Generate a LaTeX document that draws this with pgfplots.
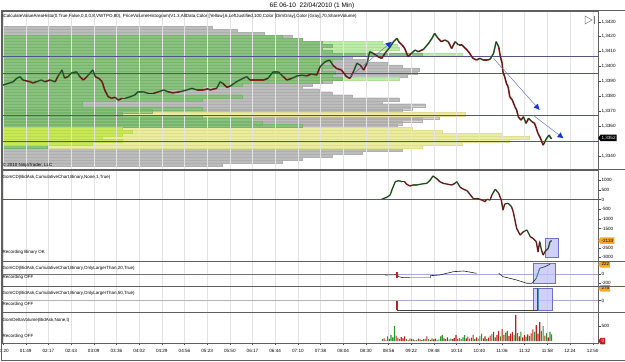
\documentclass[border=0pt]{standalone}
\usepackage{fontspec}
\setmainfont{Liberation Sans}
\usepackage{pgfplots}
\usepackage{pgfplotstable}
\pgfplotsset{compat=1.18}
\usetikzlibrary{arrows.meta,shapes.symbols}

\definecolor{histgray}{RGB}{188,188,188}
\definecolor{histgrayedge}{RGB}{174,174,174}
\definecolor{histyellow}{RGB}{236,236,158}
\definecolor{histyellowedge}{RGB}{222,222,144}
\definecolor{vagreen}{RGB}{136,194,126}
\definecolor{vagreenedge}{RGB}{120,180,110}
\definecolor{valime}{RGB}{200,232,86}
\definecolor{valimeedge}{RGB}{186,220,76}
\definecolor{valight}{RGB}{188,236,168}
\definecolor{valightedge}{RGB}{174,224,154}
\definecolor{levelline}{RGB}{84,84,140}
\definecolor{zeroline}{RGB}{168,168,222}
\definecolor{arrowline}{RGB}{110,120,190}
\definecolor{arrowhead}{RGB}{20,50,220}
\definecolor{boxfill}{RGB}{192,192,246}
\definecolor{boxedge}{RGB}{112,112,204}
\definecolor{upcol}{RGB}{40,150,40}
\definecolor{downcol}{RGB}{190,30,30}
\definecolor{candleup}{RGB}{52,122,52}
\definecolor{candledown}{RGB}{150,32,24}
\definecolor{flagorange}{RGB}{244,168,40}
\definecolor{framegray}{RGB}{96,96,96}
\definecolor{stepteal}{RGB}{70,150,180}

\newcommand\tickfont{\fontsize{4.6}{5}\selectfont}
\newcommand\labelfont{\fontsize{4.5}{5}\selectfont}

% ---------- price (1 min closes) ----------
\pgfplotstableread{
t p c
80 1.33875 0
92 1.33897 0
96 1.33920 0
100 1.33931 0
103 1.33909 1
112 1.33897 1
115 1.33889 1
119 1.33897 0
125 1.33909 0
129 1.33897 1
135 1.33909 0
141 1.33897 1
144 1.33931 0
149 1.33976 0
152 1.33922 1
156 1.33931 0
160 1.33956 0
166 1.33964 0
170 1.33931 1
174 1.33909 1
178 1.33931 0
182 1.33956 0
185 1.33976 0
188 1.33931 1
192 1.33920 1
196 1.33897 1
199 1.33842 1
203 1.33797 1
207 1.33786 1
211 1.33793 0
215 1.33774 1
219 1.33786 0
223 1.33786 0
229 1.33797 0
234 1.33808 0
238 1.33830 0
244 1.33830 0
250 1.33819 1
256 1.33819 1
262 1.33830 0
268 1.33842 0
273 1.33830 1
279 1.33823 1
287 1.33830 0
295 1.33842 0
301 1.33853 0
307 1.33842 1
314 1.33842 1
320 1.33850 0
322 1.33842 1
330 1.33853 0
334 1.33897 0
337 1.33887 1
342 1.33860 1
346 1.33868 0
353 1.33897 0
361 1.33920 0
365 1.33931 0
369 1.33909 1
377 1.33909 1
385 1.33909 1
390 1.33920 0
396 1.33964 0
402 1.33964 0
408 1.33931 1
412 1.33909 1
418 1.33920 0
424 1.33936 0
430 1.33942 0
435 1.33936 1
441 1.33949 0
447 1.33942 1
451 1.33998 0
457 1.34032 0
462 1.34043 0
466 1.34009 1
470 1.33987 1
476 1.33976 1
482 1.33931 1
486 1.33920 1
490 1.33964 0
494 1.34021 0
498 1.34009 1
502 1.33976 1
506 1.34021 0
509 1.34099 0
513 1.34088 1
519 1.34065 1
523 1.34054 1
527 1.34088 0
533 1.34132 0
537 1.34166 0
541 1.34189 0
543 1.34166 1
547 1.34144 1
550 1.34121 1
554 1.34065 1
558 1.34088 0
562 1.34110 0
566 1.34099 1
572 1.34115 0
578 1.34155 0
582 1.34189 0
585 1.34222 0
589 1.34189 1
593 1.34166 1
597 1.34177 0
601 1.34166 1
605 1.34121 1
609 1.34166 0
613 1.34144 1
617 1.34144 1
623 1.34110 1
626 1.34088 1
630 1.34054 1
634 1.34043 1
638 1.34054 0
642 1.34043 1
646 1.34043 1
650 1.34048 0
654 1.34088 0
657 1.34166 0
660 1.34132 1
662 1.34065 1
664 1.34021 1
665 1.33964 1
667 1.33931 1
669 1.33887 1
671 1.33864 1
673 1.33797 1
676 1.33774 1
679 1.33730 1
681 1.33707 1
683 1.33662 1
686 1.33640 1
689 1.33662 0
692 1.33618 1
695 1.33652 0
699 1.33629 1
702 1.33618 1
704 1.33585 1
706 1.33551 1
709 1.33517 1
712 1.33472 1
714 1.33495 0
716 1.33517 0
719 1.33540 0
721 1.33517 1
722 1.33520 0
}\pricetab

% ---------- volume profile rows (2-pip rows) ----------
\pgfplotstableread{
p vol
1.3426 210
1.3424 235
1.3422 262
1.3420 290
1.3418 300
1.3416 330
1.3414 335
1.3412 330
1.3410 340
1.3408 355
1.3406 350
1.3404 365
1.3402 385
1.3400 400
1.3398 417
1.3396 415
1.3394 405
1.3392 360
1.3390 330
1.3388 310
1.3386 300
1.3384 317
1.3382 330
1.3380 350
1.3378 397
1.3376 380
1.3374 423
1.3372 410
1.3370 400
1.3366 437
1.3364 420
1.3362 400
1.3360 395
1.3344 400
1.3342 360
1.3340 330
1.3338 300
1.3336 280
1.3334 220
}\volgray
\pgfplotstableread{
p vol
1.3368 463
1.3358 410
1.3356 440
1.3354 500
1.3352 527
1.3350 507
1.3348 460
1.3346 420
}\volyellow
\pgfplotstableread{
p vol
1.3416 380
1.3414 395
1.3412 397
1.3410 370
1.3408 460
1.3392 397
}\valight
\pgfplotstableread{
p vol
1.3420 280
1.3418 300
1.3416 320
1.3414 330
1.3412 320
1.3410 330
1.3408 420
1.3406 340
1.3404 330
1.3402 320
1.3400 330
1.3398 320
1.3396 333
1.3394 330
1.3392 340
1.3390 320
1.3388 240
1.3386 200
1.3384 160
1.3382 170
1.3380 240
1.3378 200
1.3376 80
1.3374 80
1.3372 200
1.3370 150
1.3368 120
1.3366 200
1.3364 250
1.3362 260
1.3360 300
1.3346 45
}\vagreen
\pgfplotstableread{
p vol
1.3358 120
1.3356 130
1.3354 120
1.3352 100
1.3350 120
1.3348 90
}\valime

% ---------- cumulative delta ----------
\pgfplotstableread{
t v c
523 10 0
529 114 0
533 233 0
535 492 0
539 922 0
543 974 0
547 922 1
550 922 1
552 803 1
556 699 1
560 751 0
564 751 0
570 803 0
576 839 0
580 1010 0
583 1217 0
587 1098 1
591 922 1
595 839 1
599 803 1
605 751 1
609 839 0
611 922 0
615 632 1
619 528 1
623 456 1
626 285 1
630 62 1
634 62 1
638 10 1
642 -62 1
644 -114 1
646 10 0
650 -26 1
652 233 0
656 528 0
660 321 1
663 -26 1
665 -544 1
667 -233 0
671 -197 0
675 -373 1
677 -632 1
679 -1062 1
681 -1492 1
685 -1839 1
689 -1668 0
693 -1580 0
697 -1927 1
700 -2010 1
704 -2186 1
706 -2704 1
708 -2186 0
710 -2616 1
712 -2875 1
714 -2704 0
718 -2528 0
720 -2186 0
722 -2133 0
}\cdtab

% ---------- delta volume bars ----------
\pgfplotstableread{
t v
524 60
528 40
530 150
534 200
536 120
538 490
544 60
552 60
556 90
560 50
564 40
570 30
572 60
578 60
582 90
588 40
590 50
592 150
594 200
598 70
602 50
604 80
612 70
614 100
618 120
620 190
626 80
632 60
636 80
638 160
640 240
646 60
652 230
656 120
662 150
668 270
670 330
678 200
682 260
686 310
692 140
696 160
702 300
710 330
712 490
716 260
720 300
722 220
}\dvup
\pgfplotstableread{
t v
526 90
532 70
540 180
542 110
546 130
548 90
550 150
554 40
558 70
562 30
566 80
568 50
574 70
576 150
580 40
584 50
586 80
596 90
600 120
606 60
608 100
610 190
616 60
622 90
624 140
628 110
630 200
634 120
642 90
644 150
648 110
650 180
654 300
658 200
660 330
664 390
666 200
672 160
674 240
676 300
680 850
684 150
688 120
690 190
694 220
698 250
700 380
704 520
706 240
708 620
714 180
718 120
}\dvdown

\tikzset{
  flag/.style={signal, signal to=west, signal pointer angle=110, anchor=west,
    font=\tickfont, inner xsep=1pt, inner ysep=0.5pt, minimum height=6.5pt},
}
\pgfplotsset{
  panel/.style={
    scale only axis, width=596pt, xmin=78.8, xmax=776.2,
    clip=false, no markers,
    axis line style={draw=framegray, line width=0.6pt},
    xtick={80,106.54,133.08,159.62,186.15,212.69,239.23,265.77,292.31,318.85,345.38,371.92,398.46,425,451.54,478.08,504.62,531.15,557.69,584.23,610.77,637.31,663.85,690.38,716.92,743.46,770},
    xticklabels={}, xtick style={draw=none},
    xmajorgrids, grid style={draw=black!11, line width=0.4pt},
    tick align=outside, major tick length=2.5pt,
    xtick pos=bottom, ytick pos=right, yticklabel pos=right,
    ytick style={draw=black!70, line width=0.4pt},
    ticklabel style={font=\tickfont},
    yticklabel style={anchor=west, inner sep=0.8pt},
  },
  updown/.style={mesh, shader=flat corner, point meta=explicit,
    colormap={updown}{color=(upcol) color=(downcol)}},
  candles/.style={mesh, shader=flat corner, point meta=explicit,
    colormap={candles}{color=(candleup) color=(candledown)}},
  profilerow/.style={bar shift=0pt, bar width=3.1pt, line width=0.2pt},
}

\begin{document}
\begin{tikzpicture}
\useasboundingbox (0,0) rectangle (625pt,362pt);

% ===== volume profile behind the price panel =====
\begin{axis}[scale only axis, width=596pt, height=159pt, at={(2pt,192pt)}, anchor=south west,
  xmin=0, xmax=596, ymin=1.33305, ymax=1.34372, hide axis, xbar]
\addplot[profilerow, fill=histgray, draw=histgrayedge] table[x=vol,y=p]{\volgray};
\addplot[profilerow, fill=histyellow, draw=histyellowedge] table[x=vol,y=p]{\volyellow};
\addplot[profilerow, fill=valight, draw=valightedge] table[x=vol,y=p]{\valight};
\addplot[profilerow, fill=vagreen, draw=vagreenedge] table[x=vol,y=p]{\vagreen};
\addplot[profilerow, fill=valime, draw=valimeedge] table[x=vol,y=p]{\valime};
\end{axis}

% ===== price panel =====
\begin{axis}[panel, at={(2pt,192pt)}, anchor=south west, height=159pt,
  ymin=1.33305, ymax=1.34372,
  ytick={1.3340,1.3360,1.3370,1.3380,1.3390,1.3400,1.3410,1.3420,1.3430},
  yticklabels={{1,3340},{1,3360},{1,3370},{1,3380},{1,3390},{1,3400},{1,3410},{1,3420},{1,3430}}]
\addplot[levelline, line width=0.7pt] coordinates {(78.8,1.34065) (776.2,1.34065)};
\addplot[levelline, line width=0.7pt] coordinates {(78.8,1.33956) (776.2,1.33956)};
\addplot[levelline, line width=0.7pt] coordinates {(78.8,1.33674) (776.2,1.33674)};
\addplot[levelline, line width=0.7pt] coordinates {(78.8,1.33497) (776.2,1.33497)};
\addplot[candles, line width=1.6pt] table[x=t,y=p,meta=c]{\pricetab};
\addplot[black!85, line width=0.45pt] table[x=t,y=p]{\pricetab};
\addplot[arrowline, line width=0.5pt, -{Latex[length=6pt,width=6pt,color=arrowhead]}] coordinates {(486,1.33931) (535,1.34166)};
\addplot[arrowline, line width=0.5pt, -{Latex[length=6pt,width=6pt,color=arrowhead]}] coordinates {(654,1.34054) (708,1.33707)};
\addplot[arrowline, line width=0.5pt, -{Latex[length=6pt,width=6pt,color=arrowhead]}] coordinates {(700,1.33674) (736,1.33517)};
\node[flag, fill=black, text=white] at (axis cs:776.2,1.3352) {1,3352};
\end{axis}

% ===== cumulative delta =====
\begin{axis}[panel, at={(2pt,101pt)}, anchor=south west, height=91pt,
  ymin=-3186, ymax=1528,
  ytick={1000,500,0,-500,-1000,-1500,-2500,-3000},
  yticklabels={1000,500,0,-500,-1000,-1500,-2500,-3000}]
\addplot[levelline, line width=0.6pt] coordinates {(78.8,0) (776.2,0)};
\addplot[fill=boxfill, fill opacity=0.75, draw=boxedge, line width=0.5pt] coordinates {(714,-1994) (730,-1994) (730,-2979) (714,-2979) (714,-1994)};
\addplot[candles, line width=1.4pt] table[x=t,y=v,meta=c]{\cdtab};
\addplot[black!85, line width=0.45pt] table[x=t,y=v]{\cdtab};
\node[flag, fill=flagorange, text=black] at (axis cs:776.2,-2133) {-2133};
\end{axis}

% ===== cumulative delta, trades larger than 20 =====
\begin{axis}[panel, at={(2pt,76pt)}, anchor=south west, height=25pt,
  ymin=-260, ymax=295, ytick={0,-200}, yticklabels={0,-200}]
\addplot[black!55, line width=0.6pt] coordinates {(78.8,0) (528,0)};
\addplot[zeroline, line width=0.6pt] coordinates {(528,0) (776.2,0)};
\addplot[fill=boxfill, fill opacity=0.75, draw=boxedge, line width=0.5pt] coordinates {(700,244) (726,244) (726,-200) (700,-200) (700,244)};
\addplot[black!85, line width=0.6pt] coordinates {(527,-16) (541,-10) (543,-53) (548,-75) (556,-75) (580,-75) (580,-31) (591,-16) (607,58) (619,73) (634,22)};
\addplot[black!30, line width=1.2pt] coordinates {(556,-75) (580,-75)};
\addplot[downcol, line width=1.4pt] coordinates {(541,44) (541,-75)};
\addplot[black!85, line width=0.6pt] coordinates {(660,22) (665,-53) (673,-89) (681,-127) (693,-200) (699,-200) (704,-89) (706,22) (708,133) (714,169) (720,222)};
\addplot[stepteal, line width=0.8pt] coordinates {(704,-89) (706,22) (708,133)};
\node[flag, fill=flagorange, text=black] at (axis cs:776.2,222) {222};
\end{axis}

% ===== cumulative delta, trades larger than 50 =====
\begin{axis}[panel, at={(2pt,50pt)}, anchor=south west, height=26pt,
  ymin=-251, ymax=326, ytick={0}, yticklabels={0}]
\addplot[black!30, line width=1.3pt] coordinates {(78.8,0) (544,0)};
\addplot[zeroline, line width=0.7pt] coordinates {(544,0) (776.2,0)};
\addplot[fill=boxfill, fill opacity=0.75, draw=boxedge, line width=0.5pt] coordinates {(700,275) (723,275) (723,-206) (700,-206) (700,275)};
\addplot[black!75, line width=0.4pt] coordinates {(541,-206) (706,-206)};
\addplot[downcol, line width=1.5pt] coordinates {(541,0) (541,-206)};
\addplot[black!70, line width=1.3pt] coordinates {(706,-206) (706,275)};
\addplot[stepteal, line width=0.7pt] coordinates {(706,-206) (706,275)};
\node[flag, fill=flagorange, text=black] at (axis cs:776.2,275) {275};
\end{axis}

% ===== delta volume =====
\begin{axis}[panel, at={(2pt,19pt)}, anchor=south west, height=31pt,
  ymin=-65, ymax=948, ytick={500}, yticklabels={500},
  xticklabels={01:20,01:49,02:17,02:43,03:09,03:36,04:02,04:29,04:56,05:23,05:50,06:17,06:44,07:10,07:38,08:04,08:30,08:56,09:22,09:48,10:14,10:40,11:06,11:32,11:58,12:24,12:50},
  xtick style={draw=black!70, line width=0.4pt}, ybar]
\addplot[bar shift=0pt, bar width=1.1pt, fill=upcol, draw=none] table[x=t,y=v]{\dvup};
\addplot[bar shift=0pt, bar width=1.1pt, fill=downcol, draw=none] table[x=t,y=v]{\dvdown};
\node[flag, fill=downcol, text=white] at (axis cs:776.2,0) {0};
\end{axis}

% ===== frame, captions =====
\draw[framegray, line width=0.6pt] (1pt,2pt) -- (1pt,352pt);
\draw[framegray, line width=0.6pt] (1pt,352pt) -- (625pt,352pt);
\draw[framegray, line width=0.6pt] (1pt,2pt) -- (625pt,2pt);
\draw[framegray, line width=1pt] (1pt,192pt) -- (625pt,192pt);
\draw[framegray, line width=0.8pt] (1pt,101pt) -- (625pt,101pt);
\draw[framegray, line width=0.8pt] (1pt,76pt) -- (625pt,76pt);
\draw[framegray, line width=0.8pt] (1pt,50pt) -- (625pt,50pt);

\node[font=\fontsize{6.5}{7.5}\selectfont, inner sep=0pt] at (312pt,356.5pt) {6E 06-10\ \ 22/04/2010 (1 Min)};
\node[font=\labelfont, anchor=west, inner sep=0pt] at (2.5pt,345.5pt)
  {iCalculateValueAreaHisto(0,True,False,0,0,0,8,VWTPO,80), PriceVolumeHistogram(V1.3,AllData,Color [Yellow],6,LeftJustified,100,Color [DimGray],Color [Gray],70,ShareVolume)};
\node[font=\labelfont, anchor=west, inner sep=0pt] at (2.5pt,196.5pt) {\textcopyright\ 2010 NinjaTrader, LLC};
\node[font=\labelfont, anchor=west, inner sep=0pt] at (2.5pt,184.5pt) {GomCD(BidAsk,CumulativeChart,Binary,None,1,True)};
\node[font=\labelfont, anchor=west, inner sep=0pt] at (2.5pt,109.7pt) {Recording Binary OK};
\node[font=\labelfont, anchor=west, inner sep=0pt] at (2.5pt,93.5pt) {GomCD(BidAsk,CumulativeChart,Binary,OnlyLargerThan,20,True)};
\node[font=\labelfont, anchor=west, inner sep=0pt] at (2.5pt,84.7pt) {Recording OFF};
\node[font=\labelfont, anchor=west, inner sep=0pt] at (2.5pt,68.5pt) {GomCD(BidAsk,CumulativeChart,Binary,OnlyLargerThan,50,True)};
\node[font=\labelfont, anchor=west, inner sep=0pt] at (2.5pt,58pt) {Recording OFF};
\node[font=\labelfont, anchor=west, inner sep=0pt] at (2.5pt,42pt) {GomDeltaVolume(BidAsk,None,t)};
\node[font=\labelfont, anchor=west, inner sep=0pt] at (2.5pt,26pt) {Recording OFF};

% scroll-to-end button
\draw[black!55, line width=0.5pt] (585pt,346pt) -- (585pt,338pt) -- (592pt,342pt) -- cycle;
\draw[black!55, line width=0.6pt] (594pt,346pt) -- (594pt,338pt);
\end{tikzpicture}
\end{document}
